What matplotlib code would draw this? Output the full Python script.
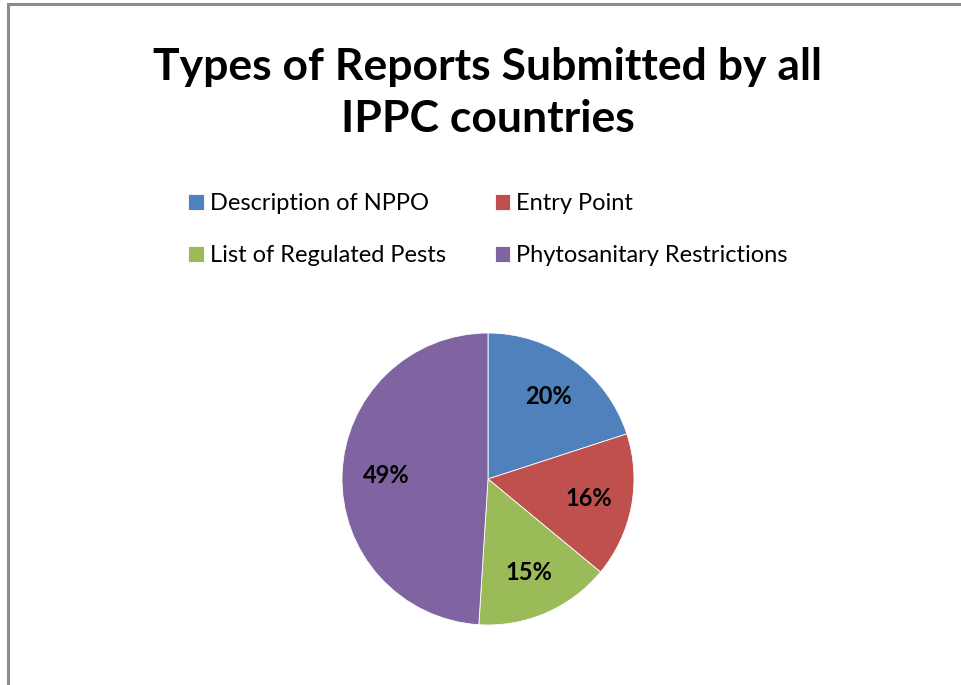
import matplotlib.pyplot as plt
from matplotlib.patches import Rectangle

# data
categories = ["Description of NPPO", "Entry Point",
              "List of Regulated Pests", "Phytosanitary Restrictions"]
shares = [20, 16, 15, 49]
colors = ["#4F81BD", "#C0504D", "#9BBB59", "#8064A2"]
title = "Types of Reports Submitted by all\nIPPC countries"

W, H = 962, 685
plt.rcParams["font.family"] = ["Lato", "DejaVu Sans"]

fig = plt.figure(figsize=(W / 100, H / 100), dpi=100)

# chart frame (only top and left edges are visible in the crop)
fig.patches.append(Rectangle((8 / W, -0.1), 1.2, 1 - 4 / H + 0.1,
                             transform=fig.transFigure, fill=False,
                             edgecolor="#8c8c8c", linewidth=2.2))

fig.text(488 / W, 1 - 93 / H, title, ha="center", va="center",
         fontsize=32, fontweight="bold", linespacing=1.38)

# pie, centre ~ (488, 479), radius ~146 px
r = 146
ax = fig.add_axes([(488 - r) / W, 1 - (479 + r) / H, 2 * r / W, 2 * r / H])
wedges, _, autotexts = ax.pie(
    shares, colors=colors, startangle=90, counterclock=False,
    autopct="%1.0f%%", pctdistance=0.7,
    wedgeprops=dict(linewidth=0.6, edgecolor="white"),
    textprops=dict(fontsize=17, fontweight="bold", color="black"))
ax.set_xlim(-1, 1)
ax.set_ylim(-1, 1)
ax.set_aspect("equal")

# legend is filled row by row in the reference
order = [0, 2, 1, 3]
fig.legend([wedges[i] for i in order], [categories[i] for i in order],
           ncol=2, loc="upper left",
           bbox_to_anchor=(167 / W, 1 - 172 / H), frameon=False,
           fontsize=17, handlelength=0.65, handleheight=0.65,
           handletextpad=0.25, columnspacing=2.1, labelspacing=1.3)

fig.savefig("out.png", dpi=100)
